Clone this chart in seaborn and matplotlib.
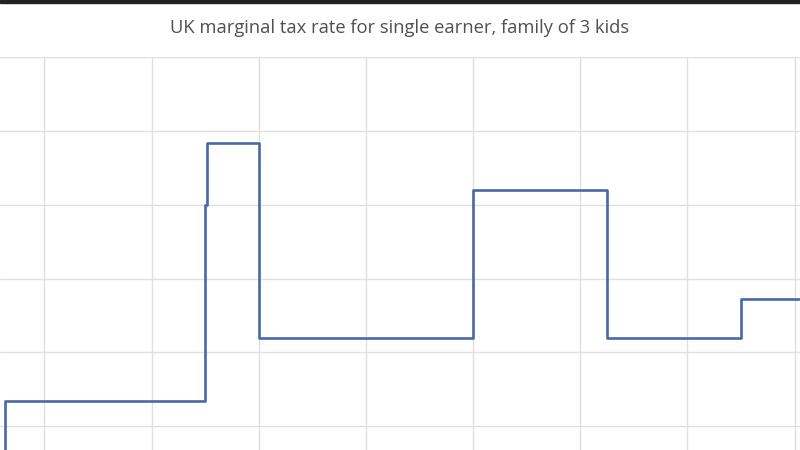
import matplotlib
matplotlib.use("Agg")
import matplotlib.pyplot as plt
import seaborn as sns
import pandas as pd
from matplotlib.patches import Rectangle

# Income (£k) and marginal tax rate (%), step changes
income_k = [0, 12.57, 50.0, 50.4, 60.0, 100.0, 125.0, 150.0, 170.0]
rate_pct = [0, 33.4, 60.0, 68.3, 42.0, 62.0, 42.0, 47.2, 47.2]
x_grid = [20, 40, 60, 80, 100, 120, 140, 160]
y_grid = [30, 40, 50, 60, 70, 80]
title = "UK marginal tax rate for single earner, family of 3 kids"

sns.set_theme(style="white")
plt.rcParams['font.family'] = ['Open Sans', 'DejaVu Sans']

df = pd.DataFrame({"income": income_k, "rate": rate_pct})

fig = plt.figure(figsize=(8, 4.5), dpi=100)
ax = fig.add_axes([0, 0, 1, 1 - 57 / 450])

ax.set_xticks(x_grid)
ax.set_yticks(y_grid)
ax.grid(True, color="#e0e0e0", linewidth=1.0)
ax.set_axisbelow(True)

sns.lineplot(data=df, x="income", y="rate", ax=ax, estimator=None,
             drawstyle="steps-post", color="#4a67a6", linewidth=1.9)

ax.set_xlim(11.7, 161.0)
ax.set_ylim(26.8, 80.0)
for s in ax.spines.values():
    s.set_visible(False)
ax.tick_params(left=False, bottom=False, labelleft=False, labelbottom=False)
ax.set_xlabel("")
ax.set_ylabel("")

fig.text(0.5, 1 - 28 / 450, title, ha="center", va="center",
         fontsize=13.2, color="#505050")
fig.patches.append(Rectangle((0, 1 - 2.5 / 450), 1, 2.5 / 450, transform=fig.transFigure,
                             color="#222222", zorder=10))

fig.savefig("out.png", dpi=100)
